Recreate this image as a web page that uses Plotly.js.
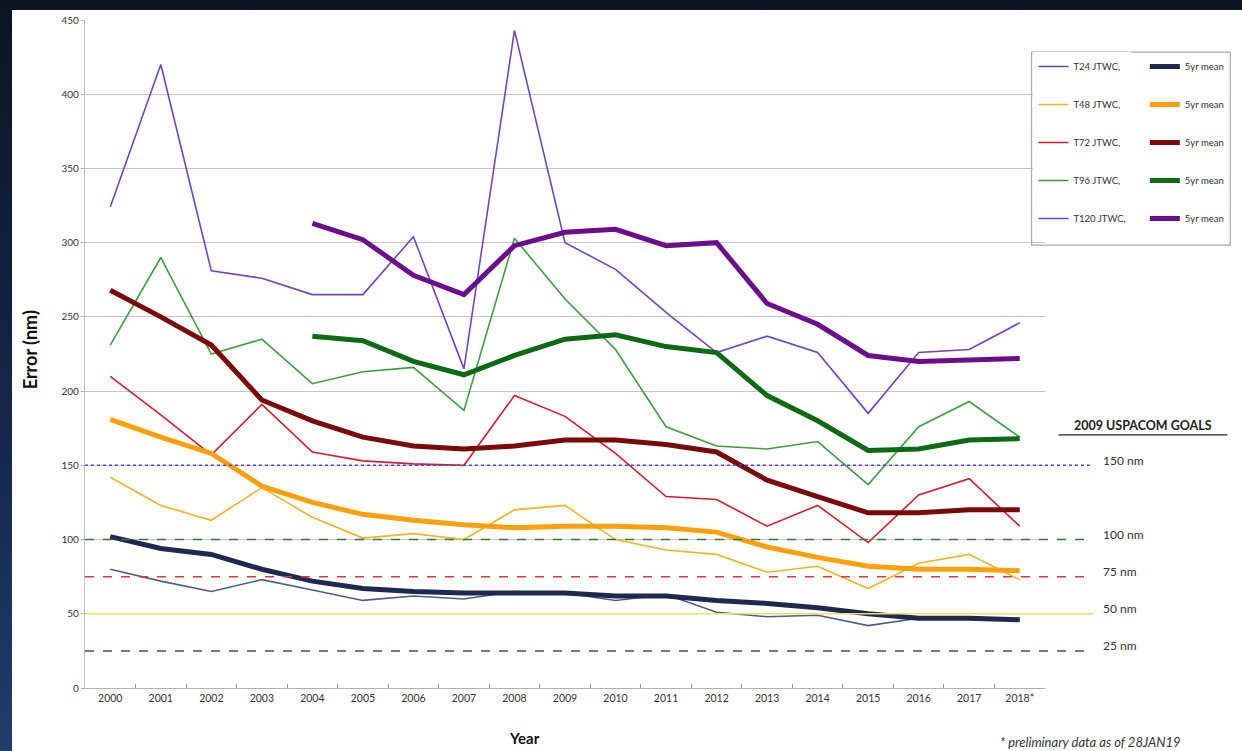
<!DOCTYPE html>
<html>
<head>
<meta charset="utf-8">
<script src="https://cdn.plot.ly/plotly-3.0.1.min.js"></script>
<style>
  html, body { margin:0; padding:0; width:1242px; height:751px; overflow:hidden;
    background: linear-gradient(to bottom, #0d1523 0%, #14264a 55%, #1d3d6c 100%); }
  #chart { position:absolute; left:12px; top:10px; width:1230px; height:741px; background:#fff; }
</style>
</head>
<body>
<div id="chart"></div>
<script>
// ---- data ----
const years = ['2000','2001','2002','2003','2004','2005','2006','2007','2008','2009',
               '2010','2011','2012','2013','2014','2015','2016','2017','2018*'];

const t24      = [80, 72, 65, 73, 66, 59, 62, 60, 65, 64, 59, 63, 51, 48, 49, 42, 47, 48, 46];
const t24Mean  = [102, 94, 90, 80, 72, 67, 65, 64, 64, 64, 62, 62, 59, 57, 54, 50, 47, 47, 46];
const t48      = [142, 123, 113, 135, 115, 101, 104, 100, 120, 123, 100, 93, 90, 78, 82, 67, 84, 90, 73];
const t48Mean  = [181, 169, 158, 136, 125, 117, 113, 110, 108, 109, 109, 108, 105, 95, 88, 82, 80, 80, 79];
const t72      = [210, 184, 157, 191, 159, 153, 151, 150, 197, 183, 158, 129, 127, 109, 123, 98, 130, 141, 109];
const t72Mean  = [268, 250, 231, 194, 180, 169, 163, 161, 163, 167, 167, 164, 159, 140, 129, 118, 118, 120, 120];
const t96      = [231, 290, 225, 235, 205, 213, 216, 187, 303, 262, 228, 176, 163, 161, 166, 137, 176, 193, 169];
const t96Mean  = [null, null, null, null, 237, 234, 220, 211, 224, 235, 238, 230, 226, 197, 180, 160, 161, 167, 168];
const t120     = [324, 420, 281, 276, 265, 265, 304, 215, 443, 300, 282, 253, 226, 237, 226, 185, 226, 228, 246];
const t120Mean = [null, null, null, null, 313, 302, 278, 265, 298, 307, 309, 298, 300, 259, 245, 224, 220, 221, 222];

const seriesNames = ['T24 JTWC,', 'T48 JTWC,', 'T72 JTWC,', 'T96 JTWC,', 'T120 JTWC,'];
const meanName = '5yr mean';

const goalValues = [150, 100, 75, 50, 25];
const goalLabels = ['150 nm', '100 nm', '75 nm', '50 nm', '25 nm'];
const goalsTitle = '2009 USPACOM GOALS';
const footnote = '* preliminary data as of 28JAN19';

// ---- styles ----
const thinColors  = ['#4d5c8c', '#f2b324', '#d21f2b', '#3f9d3f', '#7443c4'];
const thickColors = ['#1e2850', '#ffa00a', '#7a0a0a', '#0b6a12', '#6c0e8c'];
const goalColors  = ['#5b3fe0', '#2f7d2f', '#d83a3a', '#efe05a', '#3d4d8a'];
const goalDash    = ['dot', 'dash', 'dash', 'solid', 'dash'];

const thinData  = [t24, t48, t72, t96, t120];
const thickData = [t24Mean, t48Mean, t72Mean, t96Mean, t120Mean];

const FONT = 'Lato, "Open Sans", sans-serif';
const traces = [];
for (let i = 0; i < 5; i++) {
  traces.push({
    x: years, y: thinData[i], type: 'scatter', mode: 'lines', name: seriesNames[i],
    line: {color: thinColors[i], width: 1.6}, legend: 'legend', legendgroup: 'a' + i,
    hoverinfo: 'x+y+name'
  });
}
for (let i = 0; i < 5; i++) {
  traces.push({
    x: years, y: thickData[i], type: 'scatter', mode: 'lines', name: meanName,
    line: {color: thickColors[i], width: 5}, legend: 'legend2', legendgroup: 'b' + i,
    connectgaps: false, hoverinfo: 'x+y+name'
  });
}

const shapes = [];
const annotations = [];
goalValues.forEach((v, i) => {
  shapes.push({type: 'line', xref: 'paper', yref: 'y', x0: 0, x1: 1.05, y0: v, y1: v,
    line: {color: goalColors[i], width: 1.5, dash: goalDash[i]}, layer: 'above'});
  annotations.push({xref: 'paper', yref: 'y', x: 1.058, y: v, yshift: 5, xanchor: 'left', yanchor: 'middle',
    text: goalLabels[i], showarrow: false, font: {family: FONT, size: 12, color: '#333'}});
});
// legend border
shapes.push({type: 'rect', xref: 'paper', yref: 'paper', x0: 0.986, x1: 1.193, y0: 0.663, y1: 0.952,
  line: {color: '#a8a8a8', width: 1.2}, fillcolor: 'rgba(0,0,0,0)', layer: 'above'});
// underline of goals title
shapes.push({type: 'line', xref: 'paper', yref: 'paper', x0: 1.014, x1: 1.19, y0: 0.379, y1: 0.379,
  line: {color: '#222', width: 1.2}});

annotations.push({xref: 'paper', yref: 'paper', x: 1.102, y: 0.393, xanchor: 'center', yanchor: 'middle',
  text: '<b>' + goalsTitle + '</b>', showarrow: false, font: {family: FONT, size: 12.5, color: '#222'}});
annotations.push({xref: 'paper', yref: 'paper', x: -0.057, y: 0.506, xanchor: 'center', yanchor: 'middle',
  textangle: -90, text: '<b>Error (nm)</b>', showarrow: false, font: {family: FONT, size: 18, color: '#111'}});
annotations.push({xref: 'paper', yref: 'paper', x: 0.458, y: -0.075, xanchor: 'center', yanchor: 'middle',
  text: '<b>Year</b>', showarrow: false, font: {family: FONT, size: 15, color: '#111'}});
annotations.push({xref: 'paper', yref: 'paper', x: 1.047, y: -0.081, xanchor: 'center', yanchor: 'middle',
  text: '<i>' + footnote + '</i>', showarrow: false, font: {family: FONT, size: 13, color: '#333'}});

const legendCommon = {
  bgcolor: 'rgba(255,255,255,1)', borderwidth: 0, orientation: 'v',
  font: {family: FONT, size: 9.5, color: '#333'},
  yanchor: 'top', xanchor: 'left', tracegroupgap: 19, traceorder: 'grouped',
  itemwidth: 30
};

const layout = {
  width: 1230, height: 741,
  margin: {l: 73, r: 197, t: 10, b: 63},
  paper_bgcolor: '#ffffff', plot_bgcolor: '#ffffff',
  showlegend: true,
  legend: Object.assign({}, legendCommon, {x: 0.988, y: 0.952}),
  legend2: Object.assign({}, legendCommon, {x: 1.104, y: 0.952, bgcolor: 'rgba(255,255,255,0)'}),
  xaxis: {
    type: 'category', categoryorder: 'array', categoryarray: years, range: [-0.5, 18.5],
    showgrid: false, showline: true, linecolor: '#b0b0b0', linewidth: 1.2,
    ticks: 'inside', tickson: 'boundaries', ticklen: 4, tickcolor: '#999',
    tickfont: {family: FONT, size: 10.5, color: '#333'}, zeroline: false
  },
  yaxis: {
    range: [0, 450], dtick: 50, showgrid: true, gridcolor: '#c6c6c6', gridwidth: 1.2,
    showline: true, linecolor: '#c0c0c0', linewidth: 1.2, zeroline: false,
    ticks: 'outside', ticklen: 3, tickcolor: '#aaa',
    tickfont: {family: FONT, size: 10, color: '#333'}
  },
  shapes: shapes,
  annotations: annotations
};

Plotly.newPlot('chart', traces, layout, {displayModeBar: false, staticPlot: true});
</script>
</body>
</html>
